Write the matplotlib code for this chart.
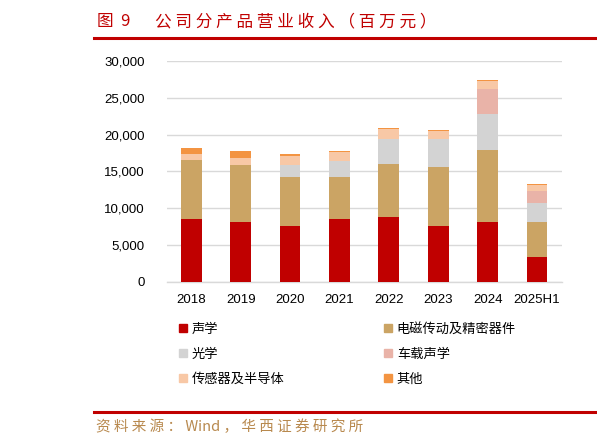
import matplotlib
matplotlib.use("Agg")
import matplotlib.pyplot as plt
import numpy as np
from matplotlib.lines import Line2D
from matplotlib.ticker import StrMethodFormatter

plt.rcParams['font.family'] = ['Liberation Sans', 'Noto Sans CJK SC', 'DejaVu Sans']

# data (million RMB)
years = ['2018', '2019', '2020', '2021', '2022', '2023', '2024', '2025H1']
acoustic = [8520, 8110, 7530, 8520, 8750, 7530, 8110, 3400]
emd_precision = [8020, 7750, 6700, 5710, 7290, 8100, 9830, 4710]
optics = [0, 0, 1630, 2170, 3310, 3720, 4850, 2630]
auto_acoustic = [0, 0, 0, 0, 0, 0, 3440, 1630]
sensor_semi = [810, 910, 1260, 1190, 1360, 1130, 1000, 730]
other = [820, 1030, 190, 170, 140, 140, 180, 180]

series = [
    ('声学', acoustic, '#C00000'),
    ('电磁传动及精密器件', emd_precision, '#CBA464'),
    ('光学', optics, '#D3D3D3'),
    ('车载声学', auto_acoustic, '#E9B3A8'),
    ('传感器及半导体', sensor_semi, '#F8C8A6'),
    ('其他', other, '#F39442'),
]

cjk = ['Noto Sans CJK SC', 'DejaVu Sans']

fig = plt.figure(figsize=(5.97, 4.45), dpi=100)
ax = fig.add_axes([0.2792, 0.3670, 0.6616, 0.4959])

x = np.arange(len(years))
bottom = np.zeros(len(years))
handles = {}
for name, vals, col in series:
    vals = np.array(vals, dtype=float)
    ax.bar(x, vals, width=0.42, bottom=bottom, color=col, zorder=3)
    bottom += vals
    handles[name] = Line2D([], [], marker='s', linestyle='none', markersize=6,
                           markerfacecolor=col, markeredgecolor=col)

ax.set_xlim(-0.5, len(years) - 0.5)
ax.set_ylim(0, 30000)
ax.set_yticks(np.arange(0, 30001, 5000))
ax.yaxis.set_major_formatter(StrMethodFormatter('{x:,.0f}'))
ax.set_xticks(x)
ax.set_xticklabels(years)
ax.tick_params(axis='both', length=0, labelsize=9.5, colors='#000000')
ax.tick_params(axis='y', pad=16)
ax.tick_params(axis='x', pad=9)
ax.grid(axis='y', color='#D9D9D9', linewidth=1, zorder=0)
for s in ['top', 'right', 'left']:
    ax.spines[s].set_visible(False)
ax.spines['bottom'].set_color('#D9D9D9')
ax.spines['bottom'].set_linewidth(1)

# legend: two columns
order = ['声学', '光学', '传感器及半导体', '电磁传动及精密器件', '车载声学', '其他']
fig.legend([handles[n] for n in order], order, loc='upper left',
           bbox_to_anchor=(0.2993, 0.2742), ncol=2, frameon=False,
           prop={'family': cjk, 'size': 9.5},
           handlelength=0.6, handletextpad=0.4, borderpad=0, borderaxespad=0,
           labelspacing=0.9, columnspacing=7.5)

# title and bands (wide letter spacing as in the source report)
red = '#C00000'
fig.text(0.162, 0.9512, '图  9', color=red, fontsize=12, family=cjk,
         va='center', ha='left')
fig.text(0.2596, 0.9512, ' '.join('公司分产品营业收入（百万元）'), color=red,
         fontsize=12, family=cjk, va='center', ha='left')
fig.add_artist(Line2D([0.158, 1.0], [0.9153, 0.9153], color=red, linewidth=2.2,
                      transform=fig.transFigure))
fig.add_artist(Line2D([0.158, 1.0], [0.0748, 0.0748], color=red, linewidth=2.2,
                      transform=fig.transFigure))
source = ' '.join('资料来源：') + ' Wind ' + ' '.join('，华西证券研究所')
fig.text(0.161, 0.0411, source, color='#B8894E', fontsize=10.5, family=cjk,
         va='center', ha='left')

fig.savefig('out.png', dpi=100)
